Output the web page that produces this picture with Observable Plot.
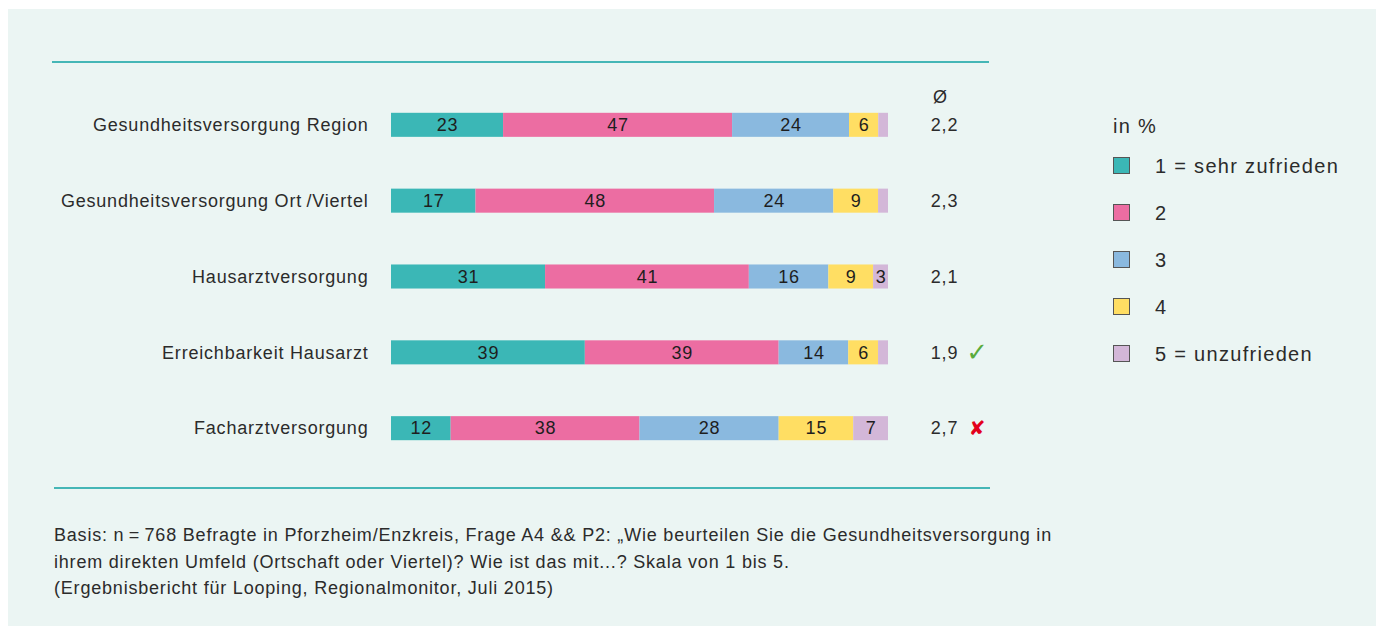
<!DOCTYPE html>
<html>
<head>
<meta charset="utf-8">
<script src="https://cdn.jsdelivr.net/npm/d3@7"></script>
<script src="https://cdn.jsdelivr.net/npm/@observablehq/plot@0.6"></script>
<style>
  html, body { margin: 0; padding: 0; background: #ffffff; }
  body { width: 1381px; height: 626px; position: relative; overflow: hidden;
         font-family: "Liberation Sans", Arial, sans-serif; color: #2b2b2b; }
  #panel { position: absolute; left: 8px; top: 9px; width: 1368px; height: 617px; background: #ebf5f3; }
  #chart { position: absolute; left: 0; top: 0; }
  #chart svg text { letter-spacing: 0.8px; }
  .rule { position: absolute; height: 2px; background: #45b6b6; }
  #legend { position: absolute; left: 1113px; top: 0; font-size: 20px; letter-spacing: 1.3px; }
  .lg-title { position: absolute; left: 0; top: 115px; white-space: nowrap; }
  .lg-item { position: absolute; left: 0; white-space: nowrap; height: 24px; line-height: 24px; }
  .lg-sw { position: absolute; left: 0; top: 3px; width: 17px; height: 17px; border: 1px solid #555; box-sizing: border-box; }
  .lg-label { position: absolute; left: 42px; top: 0; }
  #note { position: absolute; left: 54px; top: 522px; font-size: 18px; line-height: 26.5px; letter-spacing: 0.8px; white-space: nowrap; }
</style>
</head>
<body>
<div id="panel"></div>
<div class="rule" style="left:52px; top:61px; width:937px;"></div>
<div class="rule" style="left:54px; top:487px; width:936px;"></div>
<div id="chart"></div>
<div id="legend"></div>
<div id="note"></div>
<script>
// ---- data ----
const categories = [
  "Gesundheitsversorgung Region",
  "Gesundheitsversorgung Ort\u2009/Viertel",
  "Hausarztversorgung",
  "Erreichbarkeit Hausarzt",
  "Facharztversorgung"
];
const ratings = ["1 = sehr zufrieden", "2", "3", "4", "5 = unzufrieden"];
const rating1 = [23, 17, 31, 39, 12];
const rating2 = [47, 48, 41, 39, 38];
const rating3 = [24, 24, 16, 14, 28];
const rating4 = [6, 9, 9, 6, 15];
const rating5 = [2, 2, 3, 2, 7];
const means = ["2,2", "2,3", "2,1", "1,9", "2,7"];
const verdicts = ["", "", "", "✓", "✘"];
const colors = ["#3bb7b6", "#ec6da2", "#8ab9df", "#ffde63", "#d3b7d8"];
const meanHeader = "Ø";
const legendTitle = "in %";
const noteLines = [
  "Basis: n\u2009=\u2009768 Befragte in Pforzheim/Enzkreis, Frage A4 && P2: „Wie beurteilen Sie die Gesundheitsversorgung in",
  "ihrem direkten Umfeld (Ortschaft oder Viertel)? Wie ist das mit...? Skala von 1 bis 5.",
  "(Ergebnisbericht für Looping, Regionalmonitor, Juli 2015)"
];

// ---- build table ----
const series = [rating1, rating2, rating3, rating4, rating5];
const rows = [];
categories.forEach((c, i) => {
  ratings.forEach((r, j) => rows.push({category: c, rating: r, value: series[j][i]}));
});

const chart = Plot.plot({
  width: 1000,
  height: 492,
  marginTop: 61,
  marginBottom: 0,
  marginLeft: 391,
  marginRight: 112,
  style: {background: "transparent", fontSize: "18px", fontFamily: "'Liberation Sans', Arial, sans-serif", color: "#2b2b2b", overflow: "visible"},
  x: {axis: null, domain: [0, 1]},
  y: {domain: categories, padding: 0.683, round: false, label: null},
  color: {domain: ratings, range: colors},
  marks: [
    Plot.axisY({tickSize: 0, tickPadding: 23, label: null, fill: "#2b2b2b"}),
    Plot.barX(rows, Plot.stackX({x: "value", y: "category", z: "rating", fill: "rating", offset: "normalize", order: null})),
    Plot.text(rows, Plot.stackX({x: "value", y: "category", z: "rating", offset: "normalize", order: null,
      text: d => d.value >= 3 ? String(d.value) : "", fill: "#1e1e1e", fontSize: 18})),
    Plot.text(categories, {y: d => d, text: means, frameAnchor: "right", dx: 56, textAnchor: "middle", fill: "#2b2b2b", fontSize: 18}),
    Plot.text(categories, {y: d => d, text: (d, i) => verdicts[i], frameAnchor: "right", dx: 89, textAnchor: "middle",
      fill: (d, i) => i === 3 ? "#5aab3c" : "#e3001b", fontSize: (d, i) => i === 3 ? 26 : 20, fontFamily: "DejaVu Sans"}),
    Plot.text([meanHeader], {frameAnchor: "top-right", dx: 52, dy: 29, text: d => d, textAnchor: "middle", fill: "#2b2b2b", fontSize: 18})
  ]
});
document.getElementById("chart").appendChild(chart);

// ---- legend ----
const legend = document.getElementById("legend");
const title = document.createElement("div");
title.className = "lg-title";
title.textContent = legendTitle;
legend.appendChild(title);
ratings.forEach((r, i) => {
  const item = document.createElement("div");
  item.className = "lg-item";
  item.style.top = (154 + i * 47) + "px";
  const sw = document.createElement("div");
  sw.className = "lg-sw";
  sw.style.background = colors[i];
  const lb = document.createElement("div");
  lb.className = "lg-label";
  lb.textContent = r;
  item.appendChild(sw);
  item.appendChild(lb);
  legend.appendChild(item);
});

// ---- note ----
const note = document.getElementById("note");
noteLines.forEach(t => {
  const d = document.createElement("div");
  d.textContent = t;
  note.appendChild(d);
});
</script>
</body>
</html>
